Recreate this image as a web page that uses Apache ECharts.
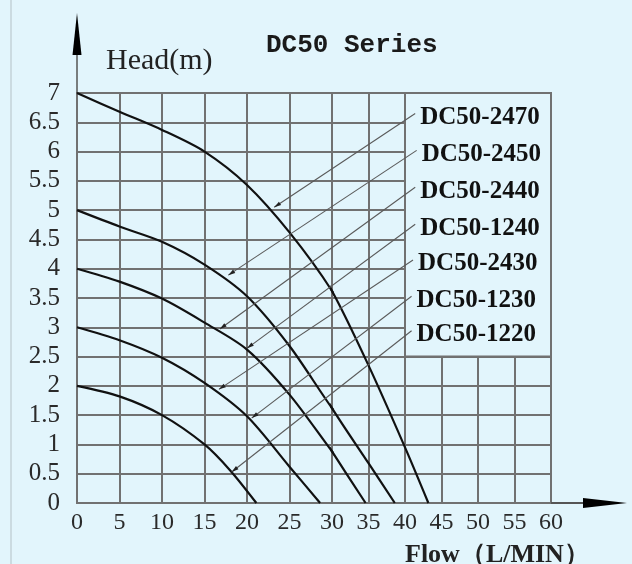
<!DOCTYPE html>
<html><head><meta charset="utf-8">
<script src="https://cdn.jsdelivr.net/npm/echarts@6/dist/echarts.min.js"></script>
<style>html,body{margin:0;padding:0;background:#e2f5fc}#c{width:632px;height:564px}</style>
</head><body><div id="c"></div>
<script>
// Head (m) vs Flow (L/MIN) curves
const curve2470 = [[0,7],[5,6.68],[10,6.37],[15,6.0],[20,5.43],[25,4.62],[30,3.62],[35,2.35],[40,0.95],[43.2,0]];
const curve2450 = [[0,5],[5,4.72],[10,4.46],[15,4.07],[20,3.53],[25,2.68],[30,1.62],[35,0.68],[38.6,0]];
const curve2440 = [[0,4],[5,3.78],[10,3.49],[15,3.08],[20,2.62],[25,1.85],[30,0.88],[34.6,0]];
const curve2430 = [[0,3],[5,2.78],[10,2.48],[15,2.05],[20,1.48],[25,0.62],[28.6,0]];
const curve1220 = [[0,2],[5,1.82],[10,1.5],[15,1.0],[18,0.56],[21.1,0]];
const curves = [curve2470, curve2450, curve2440, curve2430, curve1220];

// model labels and their leader lines (from point on curve -> label end)
const models = ['DC50-2470','DC50-2450','DC50-2440','DC50-1240','DC50-2430','DC50-1230','DC50-1220'];
const leaderFrom = [[23.2,5.05],[17.8,3.89],[16.8,2.97],[20.0,2.64],[16.7,1.94],[20.55,1.45],[18.2,0.53]];
const leaderTo = [[41.4,6.65],[41.6,6.02],[41.4,5.39],[41.4,4.76],[41.1,4.15],[40.9,3.53],[40.9,2.94]];

// axis ranges (left part of the sheet 0-30 is drawn wider than 30-60)
const flowLeft = [0, 30], flowRight = [30, 60], headRange = [0, 7];
const flowStep = 5, headStep = 0.5;
const labelBox = [[40, 2.5], [60, 7]];

const BG = '#e2f5fc', GRID = '#717171';
const chart = echarts.init(document.getElementById('c'), null, {renderer: 'canvas'});
const serif = 'Liberation Serif';
const splitLine = {show: true, lineStyle: {color: GRID, width: 2}};

const series = [];
curves.forEach(c => {
  series.push({type: 'line', xAxisIndex: 0, yAxisIndex: 0, data: c, smooth: 0.3,
    symbol: 'none', clip: true, lineStyle: {color: '#111', width: 2.2}, z: 5});
  series.push({type: 'line', xAxisIndex: 1, yAxisIndex: 1, data: c, smooth: 0.3,
    symbol: 'none', clip: true, lineStyle: {color: '#111', width: 2.2}, z: 5});
});
// blank label box
series.push({type: 'line', xAxisIndex: 1, yAxisIndex: 1, data: [], markArea: {silent: true,
  itemStyle: {color: BG, borderColor: GRID, borderWidth: 2}, data: [[{coord: labelBox[0]}, {coord: labelBox[1]}]]}});

chart.setOption({
  animation: false,
  backgroundColor: BG,
  title: [
    {text: 'DC50 Series', left: 261, top: 27, textStyle: {fontFamily: 'Liberation Mono', fontSize: 26, fontWeight: 'bold', color: '#1a1a1a'}},
    {text: 'Head(m)', left: 101, top: 41, textStyle: {fontFamily: serif, fontSize: 30, fontWeight: 'normal', color: '#222'}},
    {text: 'Flow（L/MIN）', left: 400, top: 537, textStyle: {fontFamily: serif, fontSize: 26, fontWeight: 'bold', color: '#222'}}
  ],
  grid: [
    {left: 77, right: 300, top: 93, bottom: 61, show: true, borderColor: GRID, borderWidth: 2, backgroundColor: 'transparent'},
    {left: 332, right: 81, top: 93, bottom: 61, show: true, borderColor: GRID, borderWidth: 2, backgroundColor: 'transparent'}
  ],
  xAxis: [
    {gridIndex: 0, type: 'value', min: flowLeft[0], max: flowLeft[1], interval: flowStep,
      axisLine: {show: false}, axisTick: {show: false}, splitLine,
      axisLabel: {fontFamily: serif, fontSize: 24, color: '#2a2a2a', margin: 8}},
    {gridIndex: 1, type: 'value', min: flowRight[0], max: flowRight[1], interval: flowStep,
      axisLine: {show: false}, axisTick: {show: false}, splitLine,
      axisLabel: {fontFamily: serif, fontSize: 24, color: '#2a2a2a', margin: 8, showMinLabel: false}}
  ],
  yAxis: [
    {gridIndex: 0, type: 'value', min: headRange[0], max: headRange[1], interval: headStep,
      axisLine: {show: false}, axisTick: {show: false}, splitLine,
      axisLabel: {fontFamily: serif, fontSize: 25, color: '#2a2a2a', margin: 17}},
    {gridIndex: 1, type: 'value', min: headRange[0], max: headRange[1], interval: headStep,
      axisLine: {show: false}, axisTick: {show: false}, splitLine, axisLabel: {show: false}}
  ],
  series
});

// decorations: axis arrows, leader lines and model labels, placed via the chart's own scales
const px = (g, p) => chart.convertToPixel({gridIndex: g}, p);
const o = px(0, [0, 0]);
const yTop = px(0, [0, 7]);
const xEnd = px(1, [60, 0]);
const g = [];
g.push({type: 'line', shape: {x1: 11, y1: 0, x2: 11, y2: 564}, style: {stroke: '#c3d2d8', lineWidth: 1.5}});
g.push({type: 'line', shape: {x1: o[0], y1: yTop[1], x2: o[0], y2: yTop[1] - 45}, style: {stroke: '#555', lineWidth: 1.5}});
g.push({type: 'polygon', shape: {points: [[o[0], yTop[1] - 80], [o[0] - 4.5, yTop[1] - 38], [o[0] + 4.5, yTop[1] - 38]]}, style: {fill: '#000'}});
g.push({type: 'line', shape: {x1: xEnd[0], y1: o[1], x2: xEnd[0] + 40, y2: o[1]}, style: {stroke: '#555', lineWidth: 2}});
g.push({type: 'polygon', shape: {points: [[xEnd[0] + 76, o[1]], [xEnd[0] + 32, o[1] - 5], [xEnd[0] + 32, o[1] + 5]]}, style: {fill: '#000'}});

models.forEach((m, i) => {
  const a = px(0, leaderFrom[i]);
  const b = px(1, leaderTo[i]);
  g.push({type: 'line', shape: {x1: a[0], y1: a[1], x2: b[0], y2: b[1]}, style: {stroke: '#5a5a5a', lineWidth: 1.1}, z: 10});
  const dx = a[0] - b[0], dy = a[1] - b[1], L = Math.hypot(dx, dy);
  const ux = dx / L, uy = dy / L, nx = -uy, ny = ux;
  g.push({type: 'polygon', shape: {points: [[a[0], a[1]], [a[0] - ux * 7 + nx * 2, a[1] - uy * 7 + ny * 2], [a[0] - ux * 7 - nx * 2, a[1] - uy * 7 - ny * 2]]}, style: {fill: '#222'}, z: 10});
  g.push({type: 'text', x: b[0] + 5, y: b[1] + 4, style: {text: m, fontFamily: serif, fontSize: 25, fontWeight: 'bold', fill: '#111', verticalAlign: 'middle', align: 'left'}, z: 10});
});
chart.setOption({graphic: g});
</script>
</body></html>
